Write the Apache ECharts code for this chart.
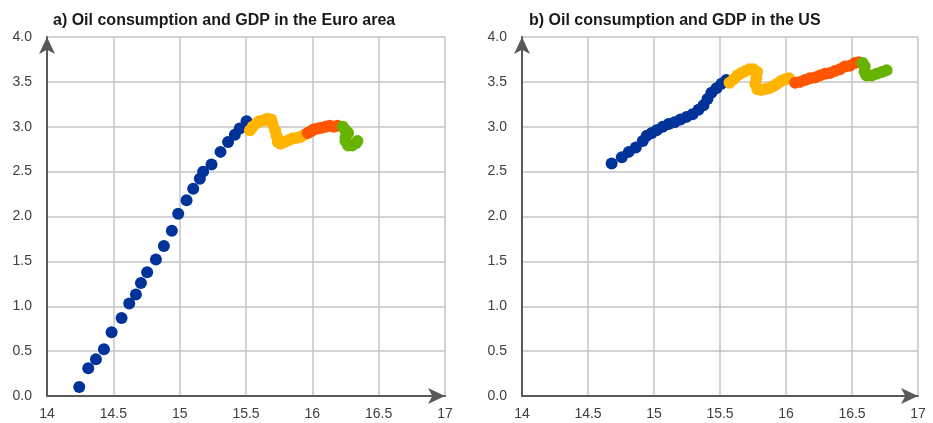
<!DOCTYPE html>
<html><head><meta charset="utf-8">
<script src="https://cdn.jsdelivr.net/npm/echarts@6/dist/echarts.min.js"></script>
<style>html,body{margin:0;padding:0;background:#fff}#c{width:933px;height:423px}</style>
</head><body><div id="c"></div>
<script>
var titles = ['a) Oil consumption and GDP in the Euro area', 'b) Oil consumption and GDP in the US'];
var xTicks = [14, 14.5, 15, 15.5, 16, 16.5, 17];
var yTicks = [0.0, 0.5, 1.0, 1.5, 2.0, 2.5, 3.0, 3.5, 4.0];

// Euro area
var euBlue = [[14.243,0.10],[14.311,0.31],[14.369,0.41],[14.429,0.52],[14.487,0.71],[14.562,0.87],[14.620,1.03],[14.670,1.13],[14.708,1.26],[14.755,1.38],[14.821,1.52],[14.881,1.67],[14.941,1.84],[14.989,2.03],[15.052,2.18],[15.102,2.31],[15.152,2.42],[15.177,2.50],[15.240,2.58],[15.308,2.72],[15.365,2.83],[15.416,2.91],[15.453,2.98],[15.504,3.06]];
var euYellow = [[15.53,2.96],[15.55,3.00],[15.58,3.04],[15.60,3.06],[15.63,3.07],[15.66,3.09],[15.69,3.08],[15.70,3.03],[15.72,2.96],[15.73,2.90],[15.74,2.83],[15.76,2.81],[15.79,2.83],[15.82,2.85],[15.85,2.87],[15.88,2.875],[15.91,2.885],[15.94,2.91]];
var euOrange = [[15.965,2.93],[15.99,2.95],[16.01,2.97],[16.04,2.98],[16.07,2.99],[16.10,3.00],[16.13,3.01],[16.16,3.00],[16.19,3.01]];
var euGreen = [[16.23,3.00],[16.25,2.96],[16.27,2.93],[16.25,2.88],[16.25,2.84],[16.27,2.79],[16.30,2.79],[16.33,2.82],[16.34,2.84]];

// US
var usBlue = [[14.679,2.59],[14.756,2.66],[14.809,2.72],[14.862,2.77],[14.915,2.84],[14.945,2.90],[14.983,2.93],[15.020,2.96],[15.066,3.00],[15.111,3.03],[15.156,3.05],[15.201,3.08],[15.247,3.11],[15.292,3.14],[15.337,3.19],[15.375,3.24],[15.405,3.31],[15.435,3.38],[15.473,3.43],[15.511,3.48],[15.548,3.52]];
var usYellow = [[15.572,3.49],[15.602,3.53],[15.632,3.57],[15.662,3.60],[15.692,3.62],[15.722,3.64],[15.752,3.64],[15.782,3.61],[15.775,3.54],[15.767,3.48],[15.782,3.42],[15.812,3.41],[15.843,3.42],[15.873,3.43],[15.903,3.45],[15.933,3.48],[15.963,3.51],[15.993,3.53],[16.023,3.54]];
var usOrange = [[16.069,3.49],[16.107,3.50],[16.144,3.52],[16.182,3.54],[16.219,3.55],[16.257,3.57],[16.295,3.59],[16.333,3.60],[16.370,3.62],[16.408,3.64],[16.446,3.67],[16.483,3.68],[16.521,3.71],[16.551,3.72]];
var usGreen = [[16.581,3.71],[16.596,3.67],[16.596,3.61],[16.611,3.57],[16.649,3.57],[16.687,3.59],[16.725,3.61],[16.762,3.63]];

var colors = ['#003399', '#FFB400', '#FF5500', '#66B300'];
var groups = [[euBlue, euYellow, euOrange, euGreen], [usBlue, usYellow, usOrange, usGreen]];

var font = 'Liberation Sans, Arial, sans-serif';
function xAxis(i) {
  return {
    gridIndex: i, type: 'value', min: xTicks[0], max: xTicks[xTicks.length-1], interval: 0.5,
    axisLine: {show: true, symbol: ['none', 'arrow'], symbolSize: [12, 17], lineStyle: {color: '#595959', width: 2}},
    axisTick: {show: false},
    axisLabel: {color: '#404040', fontSize: 14, fontFamily: font, margin: 11, formatter: function(v){return String(v);}},
    splitLine: {show: true, lineStyle: {color: '#c4c4c4', width: 1.5}}
  };
}
function yAxis(i) {
  return {
    gridIndex: i, type: 'value', min: yTicks[0], max: yTicks[yTicks.length-1], interval: 0.5,
    axisLine: {show: true, symbol: ['none', 'arrow'], symbolSize: [12, 17], lineStyle: {color: '#595959', width: 2}},
    axisTick: {show: false},
    axisLabel: {color: '#404040', fontSize: 14, fontFamily: font, margin: 15, formatter: function(v){return v.toFixed(1);}},
    splitLine: {show: true, lineStyle: {color: '#c4c4c4', width: 1.5}}
  };
}
var series = [];
groups.forEach(function(g, gi){
  g.forEach(function(d, si){
    series.push({type: 'scatter', xAxisIndex: gi, yAxisIndex: gi, data: d, symbolSize: 12,
      itemStyle: {color: colors[si], opacity: 1}, silent: true, animation: false});
  });
});
var chart = echarts.init(document.getElementById('c'));
chart.setOption({
  animation: false,
  title: [
    {text: titles[0], left: 48, top: 8, textStyle: {fontSize: 16, fontWeight: 'bold', color: '#1a1a1a', fontFamily: font}},
    {text: titles[1], left: 524, top: 8, textStyle: {fontSize: 16, fontWeight: 'bold', color: '#1a1a1a', fontFamily: font}}
  ],
  grid: [
    {left: 47, top: 37, width: 398, height: 359},
    {left: 522, top: 37, width: 396, height: 359}
  ],
  xAxis: [xAxis(0), xAxis(1)],
  yAxis: [yAxis(0), yAxis(1)],
  series: series
});
</script></body></html>
